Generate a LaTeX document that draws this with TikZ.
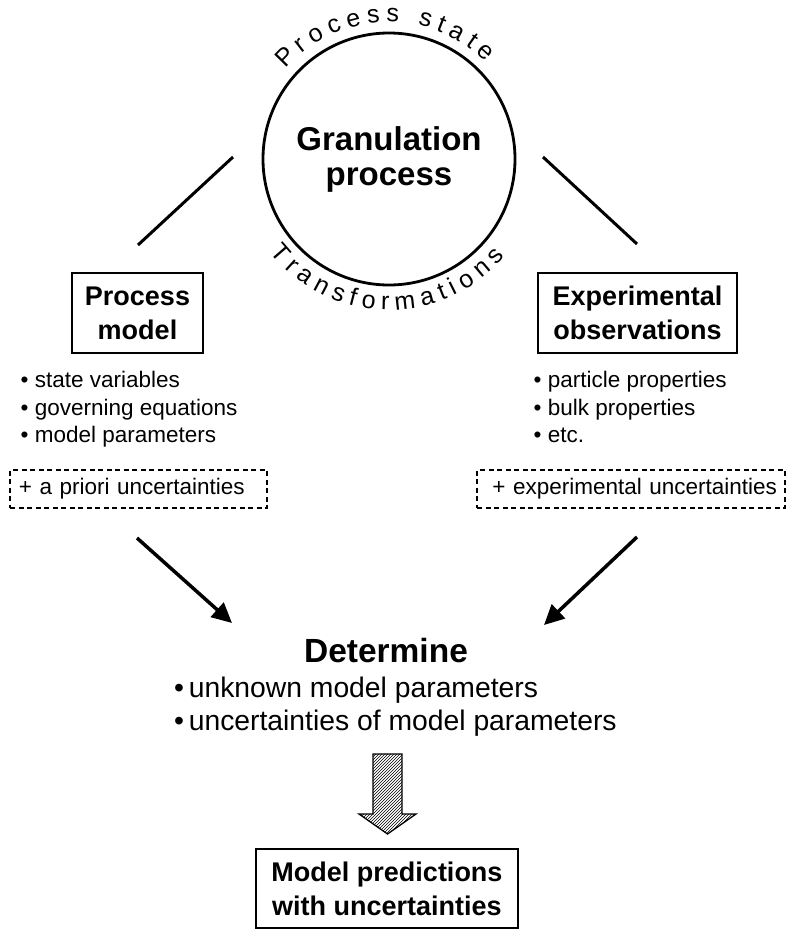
\documentclass[tikz,border=0pt]{standalone}
\usepackage{fontspec}
\setmainfont{Liberation Sans}
\usetikzlibrary{arrows.meta}
\usetikzlibrary{decorations.text}
\usetikzlibrary{patterns}
\newcommand\fsize[2]{\fontsize{#1}{#2}\selectfont}
\newcommand\arcfont{\fontsize{25}{28}\selectfont}
\tikzset{
	node_circle/.style = {
		circle,
		draw=black,
		line width=2.8pt,
		minimum size=252pt,
		inner sep=0pt,
		align=center,
		font=\fsize{33}{35}\bfseries
	},
	node_box/.style = {
		draw=black,
		line width=2.7pt,
		align=center,
		inner sep=0pt,
		minimum height=80pt,
		font=\fsize{27}{34}\bfseries
	},
	node_list/.style = {
		align=left,
		inner sep=0pt,
		anchor=north west,
		font=\fsize{22.5}{27.5}
	},
	node_dash/.style = {
		draw=black,
		dash pattern=on 5pt off 3.5pt,
		line width=1.2pt,
		inner ysep=0pt,
		minimum height=38pt,
		font=\fsize{22.5}{27}
	},
	link/.style = {
		line width=3pt
	},
	flow/.style = {
		line width=3.5pt,
		-{Triangle[length=20pt,width=19pt]}
	},
}

\begin{document}
\begin{tikzpicture}[x=1pt,y=1pt]
\useasboundingbox (0,0) rectangle (790,-929);

\node [node_circle] (gran) at (389,-159) {Granulation\\process};
\path [decorate, decoration={text along path, text={|\arcfont|Process state}, text align={fit to path}}]
	([shift={(139:137)}]gran.center) arc[start angle=139, end angle=45, radius=137];
\path [decorate, decoration={text along path, text={|\arcfont|Transformations}, text align={fit to path}}]
	([shift={(218:151)}]gran.center) arc[start angle=218, end angle=320, radius=151];

\node [node_box, minimum width=131pt] (pmodel) at (137.5,-313) {Process\\model};
\node [node_box, minimum width=199pt] (expobs) at (637.5,-313) {Experimental\\observations};

\coordinate (gran-l) at (233,-157);
\coordinate (gran-r) at (543,-157);
\coordinate (pmodel-n) at (138,-245);
\coordinate (expobs-n) at (637,-244);
\draw [link] (gran-l) -- (pmodel-n);
\draw [link] (gran-r) -- (expobs-n);

\node [node_list] (plist) at (20.5,-371) {\textbullet\ state variables\\\textbullet\ governing equations\\\textbullet\ model parameters};
\node [node_list] (elist) at (533.5,-371) {\textbullet\ particle properties\\\textbullet\ bulk properties\\\textbullet\ etc.};

\node [node_dash, text width=239pt, align=left, inner xsep=9pt] (pprior) at (138.5,-489) {+ a priori uncertainties};
\node [node_dash, text width=292pt, align=right, inner xsep=8pt] (eunc) at (631,-489) {+ experimental uncertainties};

\node [anchor=base, inner sep=0pt, font=\fsize{33.5}{36}\bfseries] (det) at (386,-662) {Determine};
\node [node_list, font=\fsize{28.3}{33}] (dlist) at (174,-676.7) {\textbullet\,unknown model parameters\\\textbullet\,uncertainties of model parameters};

\coordinate (pprior-s) at (137,-538);
\coordinate (eunc-s) at (637,-537);
\coordinate (det-w) at (232,-623);
\coordinate (det-e) at (544,-625);
\draw [flow] (pprior-s) -- (det-w);
\draw [flow] (eunc-s) -- (det-e);

\draw [line width=1.3pt, pattern=north east lines] (373,-754) -- (402,-754) -- (402,-814) -- (416,-814)
	-- (387.5,-834) -- (359,-814) -- (373,-814) -- cycle;

\node [node_box, minimum width=262pt, minimum height=79pt] (pred) at (387,-888.5) {Model predictions\\with uncertainties};
\end{tikzpicture}
\end{document}
